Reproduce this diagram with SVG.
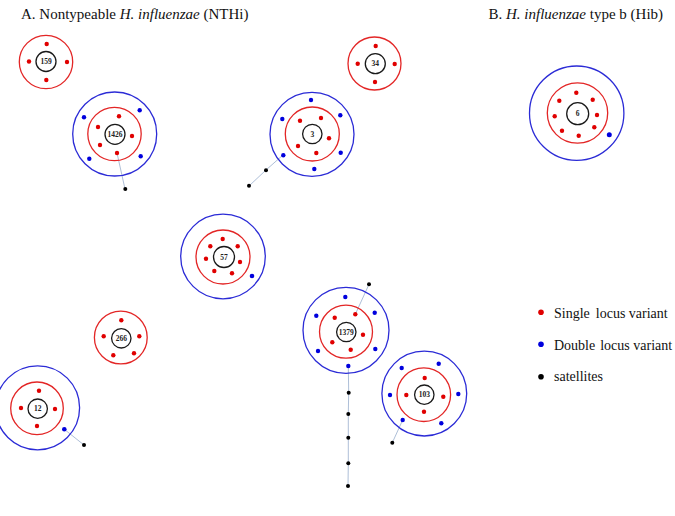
<svg xmlns="http://www.w3.org/2000/svg" width="675" height="516" viewBox="0 0 675 516">
<style>
.title{font-family:"Liberation Serif","Times New Roman",serif;font-size:15px;fill:#111}
.leg{font-family:"Liberation Serif","Times New Roman",serif;font-size:14px;fill:#111}
.lbl{font-family:"Liberation Serif","Times New Roman",serif;font-size:7.5px;font-weight:bold;fill:#222;text-anchor:middle;dominant-baseline:central}
.core{fill:#fff;stroke:#1a1a1a;stroke-width:1.3}
.ring1{fill:none;stroke:#e32626;stroke-width:1.3}
.ring2{fill:none;stroke:#2b2bd6;stroke-width:1.3}
.r{fill:#e00000}
.b{fill:#0000dd}
.k{fill:#000}
.conn{stroke:#aebfd8;stroke-width:1;fill:none}
</style>
<rect width="675" height="516" fill="#fff"/>
<text class="title" x="21" y="19">A. Nontypeable <tspan font-style="italic">H. influenzae</tspan> (NTHi)</text>
<text class="title" x="488.5" y="19">B. <tspan font-style="italic">H. influenzae</tspan> type b (Hib)</text>

<g id="connectors">
<polyline class="conn" points="117,153 125,189"/>
<polyline class="conn" points="283,155 266,170 249,186"/>
<polyline class="conn" points="64.3,429.3 84,445"/>
<polyline class="conn" points="355.3,314.3 369,284.3"/>
<polyline class="conn" points="348.3,366 348.7,392.7 348.3,414 348.3,437.7 348.3,463.3 348,486"/>
<polyline class="conn" points="402.7,420 392.3,442.7"/>
</g>

<g id="n159">
<circle class="ring1" cx="46" cy="62" r="26.7"/>
<circle class="r" cx="46.7" cy="44" r="2.2"/>
<circle class="r" cx="29" cy="61.5" r="2.2"/>
<circle class="r" cx="67" cy="62" r="2.2"/>
<circle class="r" cx="46.3" cy="80" r="2.2"/>
<circle class="core" cx="46" cy="61.5" r="10"/>
<text class="lbl" x="46" y="61.5">159</text>
</g>

<g id="n1426">
<circle class="ring2" cx="114.7" cy="134" r="42"/>
<circle class="ring1" cx="114.5" cy="134" r="26.7"/>
<circle class="r" cx="119" cy="116.3" r="2.2"/>
<circle class="r" cx="98" cy="127" r="2.2"/>
<circle class="r" cx="132" cy="136" r="2.2"/>
<circle class="r" cx="100" cy="145" r="2.2"/>
<circle class="r" cx="117" cy="153" r="2.2"/>
<circle class="b" cx="84" cy="117.3" r="2.2"/>
<circle class="b" cx="139.7" cy="110.3" r="2.2"/>
<circle class="b" cx="89.3" cy="158.7" r="2.2"/>
<circle class="b" cx="140.7" cy="156.3" r="2.2"/>
<circle class="core" cx="115" cy="134.3" r="10"/>
<text class="lbl" x="115" y="134.3">1426</text>
<circle class="k" cx="125.3" cy="189" r="2"/>
</g>

<g id="n3">
<circle class="ring2" cx="312" cy="134.3" r="42"/>
<circle class="ring1" cx="312.3" cy="134" r="27"/>
<circle class="r" cx="300" cy="120.7" r="2.2"/>
<circle class="r" cx="321" cy="118" r="2.2"/>
<circle class="r" cx="329" cy="138.3" r="2.2"/>
<circle class="r" cx="298" cy="146" r="2.2"/>
<circle class="r" cx="316.3" cy="153" r="2.2"/>
<circle class="b" cx="311" cy="100" r="2.2"/>
<circle class="b" cx="282.3" cy="119" r="2.2"/>
<circle class="b" cx="340.3" cy="115.3" r="2.2"/>
<circle class="b" cx="283.3" cy="155.3" r="2.2"/>
<circle class="b" cx="340.7" cy="152.7" r="2.2"/>
<circle class="b" cx="314.3" cy="169" r="2.2"/>
<circle class="core" cx="312.3" cy="134" r="9.7"/>
<text class="lbl" x="312.3" y="134">3</text>
<circle class="k" cx="266" cy="170.3" r="2"/>
<circle class="k" cx="249" cy="185.7" r="2"/>
</g>

<g id="n34">
<circle class="ring1" cx="374.5" cy="63.5" r="26.5"/>
<circle class="r" cx="375.7" cy="46" r="2.2"/>
<circle class="r" cx="357.7" cy="63.7" r="2.2"/>
<circle class="r" cx="394.7" cy="64" r="2.2"/>
<circle class="r" cx="375" cy="82" r="2.2"/>
<circle class="core" cx="375.3" cy="63.7" r="10"/>
<text class="lbl" x="375.3" y="63.7">34</text>
</g>

<g id="n6">
<circle class="ring2" cx="576.7" cy="113.2" r="47.2"/>
<circle class="ring1" cx="577.5" cy="113" r="30.2"/>
<circle class="r" cx="576.3" cy="92.7" r="2.2"/>
<circle class="r" cx="559.3" cy="100.7" r="2.2"/>
<circle class="r" cx="592.7" cy="99.7" r="2.2"/>
<circle class="r" cx="554.7" cy="116.3" r="2.2"/>
<circle class="r" cx="597" cy="115" r="2.2"/>
<circle class="r" cx="562" cy="130.7" r="2.2"/>
<circle class="r" cx="594.3" cy="127.3" r="2.2"/>
<circle class="r" cx="578.7" cy="135.7" r="2.2"/>
<circle class="b" cx="609.3" cy="134.7" r="2.5"/>
<circle class="core" cx="577.7" cy="113.7" r="11"/>
<text class="lbl" x="577.7" y="113.7">6</text>
</g>

<g id="n57">
<circle class="ring2" cx="223" cy="256.5" r="42.3"/>
<circle class="ring1" cx="223" cy="257" r="27"/>
<circle class="r" cx="222.7" cy="239" r="2.2"/>
<circle class="r" cx="210.3" cy="246.3" r="2.2"/>
<circle class="r" cx="237.7" cy="246.3" r="2.2"/>
<circle class="r" cx="206" cy="258.7" r="2.2"/>
<circle class="r" cx="240" cy="262" r="2.2"/>
<circle class="r" cx="214.3" cy="271" r="2.2"/>
<circle class="r" cx="232" cy="273.3" r="2.2"/>
<circle class="b" cx="252" cy="276" r="2.3"/>
<circle class="core" cx="224" cy="257" r="10.5"/>
<text class="lbl" x="224" y="257">57</text>
</g>

<g id="n266">
<circle class="ring1" cx="120.8" cy="337.5" r="26.4"/>
<circle class="r" cx="121.3" cy="320.3" r="2.2"/>
<circle class="r" cx="103.7" cy="336.3" r="2.2"/>
<circle class="r" cx="139.3" cy="336.3" r="2.2"/>
<circle class="r" cx="113.3" cy="355.3" r="2.2"/>
<circle class="r" cx="134" cy="353.3" r="2.2"/>
<circle class="core" cx="121.3" cy="338.3" r="9.7"/>
<text class="lbl" x="121.3" y="338.3">266</text>
</g>

<g id="n12">
<circle class="ring2" cx="37.6" cy="407.8" r="42"/>
<circle class="ring1" cx="37" cy="408.3" r="26.3"/>
<circle class="r" cx="39" cy="390.7" r="2.2"/>
<circle class="r" cx="21" cy="408" r="2.2"/>
<circle class="r" cx="55" cy="409" r="2.2"/>
<circle class="r" cx="37" cy="426" r="2.2"/>
<circle class="b" cx="64.3" cy="429.3" r="2.3"/>
<circle class="core" cx="37.7" cy="408.7" r="9.7"/>
<text class="lbl" x="37.7" y="408.7">12</text>
<circle class="k" cx="84" cy="445" r="2"/>
</g>

<g id="n1379">
<circle class="ring2" cx="346" cy="330.3" r="43"/>
<circle class="ring1" cx="346" cy="331.7" r="26.5"/>
<circle class="r" cx="334.7" cy="317.7" r="2.2"/>
<circle class="r" cx="355.3" cy="314.3" r="2.2"/>
<circle class="r" cx="363" cy="334.7" r="2.2"/>
<circle class="r" cx="332.3" cy="342.3" r="2.2"/>
<circle class="r" cx="350.7" cy="349.7" r="2.2"/>
<circle class="b" cx="345.3" cy="297" r="2.2"/>
<circle class="b" cx="316.3" cy="315.7" r="2.2"/>
<circle class="b" cx="374.7" cy="312.7" r="2.2"/>
<circle class="b" cx="318" cy="351" r="2.2"/>
<circle class="b" cx="375.3" cy="349" r="2.2"/>
<circle class="b" cx="348.3" cy="366" r="2.2"/>
<circle class="core" cx="346.3" cy="332" r="9.7"/>
<text class="lbl" x="346.3" y="332">1379</text>
<circle class="k" cx="369" cy="284.3" r="2"/>
<circle class="k" cx="348.7" cy="392.7" r="2"/>
<circle class="k" cx="348.3" cy="414" r="2"/>
<circle class="k" cx="348.3" cy="437.7" r="2"/>
<circle class="k" cx="348.3" cy="463.3" r="2"/>
<circle class="k" cx="348" cy="486" r="2"/>
</g>

<g id="n103">
<circle class="ring2" cx="424.3" cy="393.6" r="42.4"/>
<circle class="ring1" cx="423.8" cy="394.7" r="26.8"/>
<circle class="r" cx="424.7" cy="378" r="2.2"/>
<circle class="r" cx="406.3" cy="395" r="2.2"/>
<circle class="r" cx="443.3" cy="396.7" r="2.2"/>
<circle class="r" cx="424" cy="411.7" r="2.2"/>
<circle class="b" cx="401.7" cy="368" r="2.2"/>
<circle class="b" cx="438.7" cy="363.7" r="2.2"/>
<circle class="b" cx="390" cy="395" r="2.2"/>
<circle class="b" cx="458.3" cy="394" r="2.2"/>
<circle class="b" cx="402.7" cy="420" r="2.2"/>
<circle class="b" cx="441.3" cy="423.3" r="2.2"/>
<circle class="core" cx="424.3" cy="394.7" r="9.7"/>
<text class="lbl" x="424.3" y="394.7">103</text>
<circle class="k" cx="392.3" cy="442.7" r="2"/>
</g>

<g id="legend">
<circle class="r" cx="541" cy="312.3" r="2.8"/>
<text class="leg" x="554" y="317.5">Single <tspan dx="2.5">locus variant</tspan></text>
<circle class="b" cx="541" cy="344.3" r="2.8"/>
<text class="leg" x="554" y="349.5">Double <tspan dx="1.5">locus variant</tspan></text>
<circle class="k" cx="541" cy="376.7" r="2.8"/>
<text class="leg" x="554" y="381">satellites</text>
</g>
</svg>
